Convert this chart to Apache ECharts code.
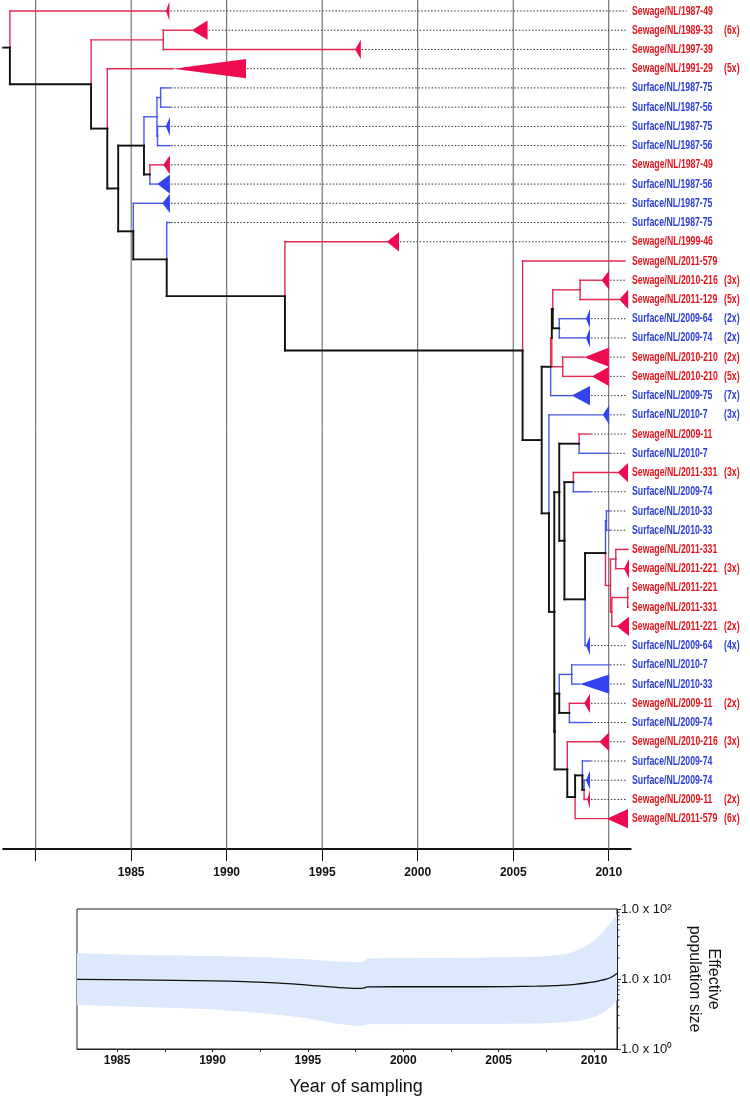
<!DOCTYPE html>
<html><head><meta charset="utf-8">
<script src="https://cdn.jsdelivr.net/npm/echarts@6/dist/echarts.min.js"></script>
<style>html,body{margin:0;padding:0;background:#fff}#c{width:750px;height:1102px}</style>
</head><body><div id="c"></div>
<script>
// ---------- tree data ----------
const leafNames = [
 'Sewage/NL/1987-49','Sewage/NL/1989-33','Sewage/NL/1997-39','Sewage/NL/1991-29',
 'Surface/NL/1987-75','Surface/NL/1987-56','Surface/NL/1987-75','Surface/NL/1987-56',
 'Sewage/NL/1987-49','Surface/NL/1987-56','Surface/NL/1987-75','Surface/NL/1987-75',
 'Sewage/NL/1999-46','Sewage/NL/2011-579','Sewage/NL/2010-216','Sewage/NL/2011-129',
 'Surface/NL/2009-64','Surface/NL/2009-74','Sewage/NL/2010-210','Sewage/NL/2010-210',
 'Surface/NL/2009-75','Surface/NL/2010-7','Sewage/NL/2009-11','Surface/NL/2010-7',
 'Sewage/NL/2011-331','Surface/NL/2009-74','Surface/NL/2010-33','Surface/NL/2010-33',
 'Sewage/NL/2011-331','Sewage/NL/2011-221','Sewage/NL/2011-221','Sewage/NL/2011-331',
 'Sewage/NL/2011-221','Surface/NL/2009-64','Surface/NL/2010-7','Surface/NL/2010-33',
 'Sewage/NL/2009-11','Surface/NL/2009-74','Sewage/NL/2010-216','Surface/NL/2009-74',
 'Surface/NL/2009-74','Sewage/NL/2009-11','Sewage/NL/2011-579'];
const leafCounts = [
 '','(6x)','','(5x)','','','','','','','','','','','(3x)','(5x)','(2x)','(2x)','(2x)','(5x)',
 '(7x)','(3x)','','','(3x)','','','','','(3x)','','','(2x)','(4x)','','','(2x)','','(3x)','',
 '','(2x)','(6x)'];
const leafParent = [
 'root','B','B','C','G','G','F2','F2','H','H','I','J','K','L','Q','Q','R','R','S','S',
 'N','U','X','X','Z','Z','AC','AC','AD','AD','AE','AE','AG','AA','BA','BA','BB','BB','V4','BD',
 'BE','BE','BC'];
const leafTip = [
 1987.0,1989.0,1997.02,1991.01,1987.03,1987.03,1987.03,1987.03,1987.03,1987.03,1987.03,1987.03,
 1999.02,2010.85,2010.02,2011.02,2009.02,2009.02,2010.02,2010.02,2009.02,2010.02,2009.02,2010.02,
 2011.01,2009.02,2010.04,2010.04,2011.02,2011.06,2011.03,2011.03,2011.06,2009.02,2010.02,2010.02,
 2009.02,2009.02,2010.02,2009.02,2009.02,2009.02,2011.01];
const leafApex = [
 1986.82,1988.17,1996.72,1987.2,null,null,1986.81,null,1986.68,1986.37,1986.63,null,
 1998.38,null,2009.63,2010.55,2008.81,2008.81,2008.71,2009.11,2008.06,2009.69,null,null,
 2010.47,null,null,null,null,2010.80,null,null,2010.42,2008.81,null,2008.50,
 2008.71,null,2009.51,null,2008.81,2008.88,2009.90];

const nodeIds    = ['root','A','B','C','D','E','F','G','F2','H','I','J','K','L','M','N','N2','P','Q','R','S','U','V','W','X','Y','Z','AA','AB','AC','AF','AD','AG','AE','V2','V3','BA','BB','V4','BC','BD','BE'];
const nodeYear   = [1978.65,1982.90,1986.68,1983.75,1984.32,1985.67,1986.35,1986.54,1986.38,1985.98,1985.11,1986.86,1993.05,2005.49,2006.49,2006.96,2007.02,2007.07,2008.50,2007.41,2007.59,2006.87,2007.15,2007.41,2008.45,2007.68,2008.15,2008.76,2009.83,2009.88,2010.09,2010.37,2010.16,2010.99,2007.17,2007.41,2008.06,2007.94,2007.83,2008.24,2008.62,2008.71];
const nodeParent = [null,'root','A','A','C','D','E','F','F','E','D','I','J','K','L','M','N','N2','P','P','N2','M','U','V','W','W','Y','Y','AA','AB','AB','AF','AF','AG','V','V2','V3','V3','V2','V4','BC','BD'];
const nodeColor  = ['k','k','r','k','k','k','b','b','b','k','k','k','k','k','k','k','r','k','r','k','r','k','k','k','k','k','k','k','k','b','r','r','r','r','k','k','b','k','k','k','k','k'];
const rootStubYear = 1978.3;

const treeTickYears = [1980,1985,1990,1995,2000,2005,2010];
const treeLabelYears = [1985,1990,1995,2000,2005,2010];

// ---------- skyline data ----------
const ciYears  = [1982.9,1986,1990,1993,1995,1996.5,1997.5,1997.9,1998.1,2001,2004,2007,2008.5,2009.0,2009.5,2010.0,2010.3,2010.6,2010.9,2011.2];
const ciMedian = [9.9,9.7,9.4,8.9,8.2,7.6,7.35,7.4,7.7,7.75,7.75,7.9,8.2,8.4,8.7,9.1,9.5,9.9,10.6,12];
const ciUpper  = [23.3,22,21.3,20.3,19.1,17.8,17.3,17.5,19.7,20,20.2,20.8,22.5,25,29,35,42,52,66,85];
const ciLower  = [4.25,4.0,3.7,3.2,2.74,2.3,2.15,2.15,2.25,2.28,2.28,2.32,2.42,2.5,2.62,2.85,3.1,3.5,4.0,5.0];
const sampleTickYears = [1985,1987.5,1990,1992.5,1995,1997.5,2000,2002.5,2005,2007.5,2010];
const sampleLabelYears = [1985,1990,1995,2000,2005,2010];
const popTickValues = [1,10,100];
const popTickLabels = ['1.0 x 10\u2070','1.0 x 10\u00b9','1.0 x 10\u00b2'];
const popMinorTicks = [2,3,4,5,6,7,8,9,20,30,40,50,60,70,80,90];

// ---------- styling constants ----------
const LINE_C = {k:'#111111', r:'#e2294f', b:'#4757e6'};
const TRI_C  = {r:'#ee0b4f', b:'#3343f2'};
const TEXT_C = {r:'#e3141c', b:'#2c3cd6'};
const DOT_END = 2010.94, LABEL_YEAR = 2011.22, COUNT_YEAR = 2016.04, TRI_HALF = 0.5;

// ---------- build tree geometry in data space ----------
const leafType = leafNames.map(n => n.startsWith('Sewage') ? 'r' : 'b');
const children = {}; nodeIds.forEach(id=>children[id]=[]);
leafNames.forEach((n,i)=>children[leafParent[i]].push({leaf:true, i}));
nodeIds.forEach((id,i)=>{ if(nodeParent[i]) children[nodeParent[i]].push({leaf:false, i}); });
const nodeRow = {};
function rowOf(c){ return c.leaf ? c.i : calcRow(nodeIds[c.i]); }
function calcRow(id){
  if(nodeRow[id]!==undefined) return nodeRow[id];
  const rs = children[id].map(rowOf);
  nodeRow[id] = (Math.min(...rs)+Math.max(...rs))/2;
  return nodeRow[id];
}
calcRow('root');
const segs = [];
nodeIds.forEach((id,ni)=>{
  const nx = nodeYear[ni], ny = nodeRow[id];
  children[id].forEach(c=>{
    const cy = rowOf(c);
    const cx = c.leaf ? (leafApex[c.i]!==null ? leafApex[c.i] : leafTip[c.i]) : nodeYear[c.i];
    const col = c.leaf ? leafType[c.i] : nodeColor[c.i];
    segs.push([nx, ny, nx, cy, col]);
    segs.push([nx, cy, cx, cy, col]);
  });
});
segs.push([rootStubYear, nodeRow.root, nodeYear[0], nodeRow.root, 'k']);
segs.sort((a,b)=> (a[4]==='k') - (b[4]==='k'));
const colKeys = ['k','r','b'];
const segData = segs.map(s=>[s[0],s[1],s[2],s[3],colKeys.indexOf(s[4])]);
const triData = [];
leafApex.forEach((a,i)=>{ if(a!==null) triData.push([a, i, leafTip[i], i]); });
const dotData = [];
leafTip.forEach((t,i)=>{ if(t < 2010.5) dotData.push([t, i, DOT_END, i]); });
const labelData = leafNames.map((n,i)=>[LABEL_YEAR, i]);

const chart = echarts.init(document.getElementById('c'), null, {renderer:'canvas'});
const narrow = '"Liberation Sans Narrow","Liberation Sans",Arial,sans-serif';
const yearFmt = v => String(Math.round(v));
const option = {
  animation:false,
  backgroundColor:'#fff',
  grid:[
    {left:3.2, top:0, width:627.5, height:849},
    {left:77, top:909, width:540, height:140, show:true, borderColor:'#222', borderWidth:1}
  ],
  xAxis:[
    {gridIndex:0, type:'value', min:1978.3, max:2011.15,
     axisLine:{show:true, onZero:false, lineStyle:{color:'#111', width:2}},
     axisTick:{show:true, customValues:treeTickYears, length:12, lineStyle:{color:'#111', width:1}},
     axisLabel:{show:true, customValues:treeLabelYears, formatter:yearFmt, margin:18, fontFamily:narrow, fontWeight:'bold', fontSize:12, color:'#111'},
     splitLine:{show:false}},
    {gridIndex:1, type:'value', min:1982.9, max:2011.2,
     axisLine:{show:true, onZero:false, lineStyle:{color:'#222', width:1}},
     axisTick:{show:true, customValues:sampleTickYears, length:3, lineStyle:{color:'#222'}},
     axisLabel:{show:true, customValues:sampleLabelYears, formatter:yearFmt, margin:6, fontFamily:narrow, fontWeight:'bold', fontSize:12, color:'#111'},
     splitLine:{show:false},
     name:'Year of sampling', nameLocation:'middle', nameGap:29,
     nameTextStyle:{fontSize:18, color:'#111', fontFamily:'"Liberation Sans",Arial,sans-serif', padding:[0,0,0,18]}}
  ],
  yAxis:[
    {gridIndex:0, type:'value', inverse:true, min:-0.572, max:43.577, show:false},
    {gridIndex:1, type:'log', logBase:10, min:1, max:100, position:'right',
     axisLine:{show:true, lineStyle:{color:'#222'}},
     axisTick:{show:true, length:4, lineStyle:{color:'#222'}},
     axisLabel:{margin:4, fontSize:13, color:'#111', fontFamily:'"Liberation Sans",Arial,sans-serif',
       formatter:(v)=>{const k=popTickValues.indexOf(Math.round(v)); return k>=0?popTickLabels[k]:'';}},
     splitLine:{show:false},
     name:'Effective\npopulation size', nameLocation:'middle', nameRotate:-90, nameGap:68,
     nameTextStyle:{fontSize:16, lineHeight:19, color:'#111', fontFamily:'"Liberation Sans",Arial,sans-serif'}}
  ],
  series:[
    {type:'custom', xAxisIndex:0, yAxisIndex:0, silent:true, z:1,
     data:treeTickYears.map(y=>[y]),
     renderItem:(p,api)=>{
       const a=api.coord([api.value(0),-0.572]), b=api.coord([api.value(0),43.577]);
       return {type:'line', shape:{x1:a[0],y1:a[1],x2:b[0],y2:b[1]}, style:{stroke:'#5a5a5a', lineWidth:1}};
     }},
    {type:'custom', xAxisIndex:0, yAxisIndex:0, silent:true, z:2,
     data:dotData,
     renderItem:(p,api)=>{
       const a=api.coord([api.value(0),api.value(1)]), b=api.coord([api.value(2),api.value(3)]);
       return {type:'line', shape:{x1:a[0]+1,y1:a[1],x2:b[0],y2:b[1]}, style:{stroke:'#333', lineWidth:1, lineDash:[1.5,1.8]}};
     }},
    {type:'custom', xAxisIndex:0, yAxisIndex:0, silent:true, z:3,
     data:segData,
     renderItem:(p,api)=>{
       const a=api.coord([api.value(0),api.value(1)]), b=api.coord([api.value(2),api.value(3)]);
       const k=colKeys[api.value(4)];
       return {type:'line', shape:{x1:a[0],y1:a[1],x2:b[0],y2:b[1]},
         style:{stroke:LINE_C[k], lineWidth:k==='k'?1.9:1.4, lineCap:'square'}};
     }},
    {type:'custom', xAxisIndex:0, yAxisIndex:0, silent:true, z:4,
     data:triData,
     renderItem:(p,api)=>{
       const r=api.value(1);
       const a=api.coord([api.value(0),r]), b=api.coord([api.value(2),r-TRI_HALF]), c=api.coord([api.value(2),r+TRI_HALF]);
       const k=leafType[api.value(3)];
       return {type:'polygon', shape:{points:[a,b,c]}, style:{fill:TRI_C[k]}};
     }},
    {type:'custom', xAxisIndex:0, yAxisIndex:0, silent:true, z:5,
     data:labelData,
     renderItem:(p,api)=>{
       const i=p.dataIndex, k=leafType[i];
       const a=api.coord([api.value(0),api.value(1)]);
       const b=api.coord([COUNT_YEAR,api.value(1)]);
       const font='bold 13px "Liberation Sans",Arial,sans-serif';
       const ch=[{type:'text', x:a[0], y:a[1], scaleX:0.67, style:{text:leafNames[i], fill:TEXT_C[k], font, align:'left', verticalAlign:'middle'}}];
       if(leafCounts[i]) ch.push({type:'text', x:b[0], y:b[1], scaleX:0.67, style:{text:leafCounts[i], fill:TEXT_C[k], font, align:'left', verticalAlign:'middle'}});
       return {type:'group', children:ch};
     }},
    {type:'custom', xAxisIndex:1, yAxisIndex:1, silent:true, z:1,
     data:[[ciYears[0], ciMedian[0]]],
     renderItem:(p,api)=>{
       const pts=[];
       ciYears.forEach((y,i)=>pts.push(api.coord([y,ciUpper[i]])));
       for(let i=ciYears.length-1;i>=0;i--) pts.push(api.coord([ciYears[i],ciLower[i]]));
       return {type:'polygon', shape:{points:pts}, style:{fill:'#dce8fb'}};
     }},
    {type:'custom', xAxisIndex:1, yAxisIndex:1, silent:true, z:3,
     data:popMinorTicks.map(v=>[2011.2, v]),
     renderItem:(p,api)=>{
       const a=api.coord([api.value(0),api.value(1)]);
       return {type:'line', shape:{x1:a[0],y1:a[1],x2:a[0]+2.5,y2:a[1]}, style:{stroke:'#222', lineWidth:1}};
     }},
    {type:'line', xAxisIndex:1, yAxisIndex:1, z:4, smooth:0.3, symbol:'none',
     data:ciYears.map((y,i)=>[y,ciMedian[i]]),
     lineStyle:{color:'#111', width:1.3}}
  ]
};
chart.setOption(option);
</script></body></html>
